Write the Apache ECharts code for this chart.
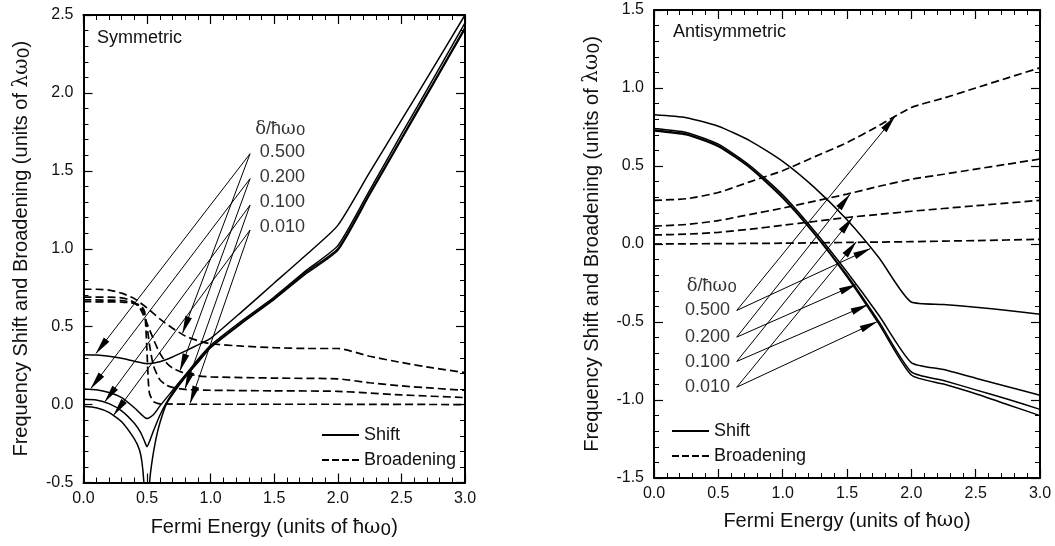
<!DOCTYPE html>
<html>
<head>
<meta charset="utf-8">
<script src="https://cdn.jsdelivr.net/npm/echarts@6/dist/echarts.min.js"></script>
<style>
  html, body { margin: 0; padding: 0; background: #ffffff; }
  #wrap { position: relative; width: 1055px; height: 546px; background: #ffffff; }
  #symChart { position: absolute; left: 0; top: 0; width: 530px; height: 546px; }
  #antiChart { position: absolute; left: 530px; top: 0; width: 525px; height: 546px; }
</style>
</head>
<body>
<div id="wrap">
  <div id="symChart"></div>
  <div id="antiChart"></div>
</div>
<script>
// ---------- axis ranges ----------
const xRange = [0, 3];
const symYRange = [-0.5, 2.5];
const antiYRange = [-1.5, 1.5];
const tickStep = 0.5;

// ---------- legend / annotation text ----------
const deltaLabels = ['0.500', '0.200', '0.100', '0.010'];
const seriesNames = ['Shift', 'Broadening'];

// ---------- Symmetric mode: frequency shift (x, shift) for δ = 0.5, 0.2, 0.1, 0.01 ----------
const symShift500 = [[0,0.32],[0.1,0.318],[0.2,0.31],[0.3,0.297],[0.4,0.278],[0.5,0.262],[0.6,0.275],[0.7,0.305],[0.8,0.343],[0.9,0.383],[1.0,0.425],[1.25,0.6],[1.5,0.78],[1.75,0.96],[2.0,1.15],[2.25,1.49],[2.5,1.825],[2.75,2.16],[3.0,2.5]];
const symShift200 = [[0,0.10],[0.1,0.095],[0.2,0.078],[0.3,0.045],[0.4,-0.02],[0.45,-0.06],[0.5,-0.09],[0.55,-0.065],[0.6,-0.01],[0.7,0.09],[0.8,0.19],[0.9,0.29],[1.0,0.38],[1.25,0.54],[1.5,0.69],[1.75,0.86],[2.0,1.02],[2.25,1.375],[2.5,1.735],[2.75,2.09],[3.0,2.45]];
const symShift100 = [[0,0.035],[0.1,0.03],[0.2,0.006],[0.3,-0.04],[0.4,-0.12],[0.45,-0.18],[0.48,-0.235],[0.5,-0.27],[0.52,-0.235],[0.55,-0.17],[0.6,-0.07],[0.65,0.01],[0.7,0.075],[0.8,0.18],[0.9,0.28],[1.0,0.37],[1.25,0.53],[1.5,0.68],[1.75,0.85],[2.0,1.0],[2.25,1.355],[2.5,1.71],[2.75,2.065],[3.0,2.42]];
const symShift010 = [[0,-0.01],[0.1,-0.02],[0.2,-0.05],[0.3,-0.11],[0.4,-0.22],[0.44,-0.29],[0.46,-0.37],[0.475,-0.5],[0.49,-0.75],[0.5,-1.0],[0.51,-0.75],[0.52,-0.5],[0.54,-0.36],[0.57,-0.22],[0.6,-0.12],[0.65,0.0],[0.7,0.065],[0.8,0.175],[0.9,0.27],[1.0,0.365],[1.25,0.525],[1.5,0.675],[1.75,0.84],[2.0,0.99],[2.25,1.345],[2.5,1.70],[2.75,2.055],[3.0,2.41]];

// ---------- Symmetric mode: broadening ----------
const symBroad500 = [[0,0.74],[0.1,0.74],[0.2,0.735],[0.3,0.715],[0.4,0.68],[0.5,0.62],[0.6,0.55],[0.7,0.49],[0.8,0.44],[0.9,0.41],[1.0,0.39],[1.25,0.375],[1.5,0.365],[1.75,0.36],[2.0,0.36],[2.25,0.31],[2.5,0.27],[2.75,0.235],[3.0,0.205]];
const symBroad200 = [[0,0.69],[0.2,0.69],[0.3,0.685],[0.35,0.675],[0.4,0.655],[0.45,0.61],[0.5,0.52],[0.55,0.42],[0.6,0.33],[0.65,0.27],[0.7,0.235],[0.8,0.2],[0.9,0.185],[1.0,0.178],[1.5,0.17],[2.0,0.165],[2.25,0.14],[2.5,0.12],[2.75,0.105],[3.0,0.092]];
const symBroad100 = [[0,0.672],[0.3,0.668],[0.4,0.65],[0.45,0.625],[0.48,0.58],[0.5,0.5],[0.52,0.38],[0.55,0.25],[0.6,0.16],[0.65,0.125],[0.7,0.11],[0.8,0.097],[1.0,0.092],[1.5,0.088],[2.0,0.085],[2.5,0.062],[3.0,0.045]];
const symBroad010 = [[0,0.66],[0.3,0.658],[0.4,0.65],[0.45,0.635],[0.48,0.6],[0.49,0.5],[0.5,0.33],[0.51,0.15],[0.52,0.07],[0.55,0.02],[0.6,0.005],[1.0,0.002],[2.0,0.002],[3.0,0.0]];

// ---------- Antisymmetric mode: frequency shift ----------
const antiShift500 = [[0,0.828],[0.25,0.81],[0.5,0.755],[0.75,0.66],[1.0,0.53],[1.25,0.36],[1.5,0.155],[1.75,-0.09],[2.0,-0.372],[2.25,-0.388],[2.5,-0.405],[2.75,-0.427],[3.0,-0.45]];
const antiShift200 = [[0,0.74],[0.25,0.715],[0.5,0.64],[0.75,0.50],[1.0,0.315],[1.25,0.08],[1.5,-0.18],[1.75,-0.46],[2.0,-0.76],[2.25,-0.805],[2.5,-0.86],[2.75,-0.915],[3.0,-0.97]];
const antiShift100 = [[0,0.73],[0.25,0.705],[0.5,0.63],[0.75,0.49],[1.0,0.30],[1.25,0.065],[1.5,-0.2],[1.75,-0.5],[2.0,-0.82],[2.25,-0.875],[2.5,-0.935],[2.75,-0.995],[3.0,-1.06]];
const antiShift010 = [[0,0.725],[0.25,0.70],[0.5,0.625],[0.75,0.485],[1.0,0.295],[1.25,0.06],[1.5,-0.21],[1.75,-0.515],[2.0,-0.84],[2.25,-0.898],[2.5,-0.96],[2.75,-1.03],[3.0,-1.10]];

// ---------- Antisymmetric mode: broadening ----------
const antiBroad500 = [[0,0.28],[0.25,0.29],[0.5,0.33],[0.75,0.40],[1.0,0.47],[1.25,0.56],[1.5,0.65],[1.75,0.76],[2.0,0.875],[2.25,0.935],[2.5,1.0],[2.75,1.065],[3.0,1.13]];
const antiBroad200 = [[0,0.115],[0.25,0.125],[0.5,0.15],[0.75,0.19],[1.0,0.23],[1.25,0.275],[1.5,0.32],[1.75,0.37],[2.0,0.415],[2.25,0.447],[2.5,0.48],[2.75,0.512],[3.0,0.545]];
const antiBroad100 = [[0,0.058],[0.25,0.063],[0.5,0.075],[0.75,0.095],[1.0,0.12],[1.25,0.145],[1.5,0.17],[1.75,0.19],[2.0,0.21],[2.5,0.245],[3.0,0.28]];
const antiBroad010 = [[0,0.0],[1.0,0.005],[1.5,0.01],[2.0,0.015],[2.5,0.022],[3.0,0.03]];

// ---------- pointer arrows (label -> curve), in data units ----------
const symArrowFrom = [[1.31,1.61],[1.31,1.45],[1.31,1.28],[1.31,1.12]];
const symArrowToShift = [[0.10,0.33],[0.06,0.105],[0.17,0.02],[0.24,-0.065]];
const symArrowToBroad = [[0.78,0.46],[0.76,0.22],[0.80,0.105],[0.84,0.012]];
const antiArrowFrom = [[0.643,-0.426],[0.643,-0.597],[0.643,-0.753],[0.643,-0.918]];
const antiArrowToShift = [[1.68,-0.03],[1.57,-0.26],[1.66,-0.39],[1.73,-0.50]];
const antiArrowToBroad = [[1.87,0.815],[1.52,0.315],[1.54,0.165],[1.57,0.012]];

// ---------- annotation anchors (left edge, vertical middle of the text) ----------
const symLabelAnchors = [[1.387,1.618],[1.387,1.458],[1.387,1.298],[1.387,1.138]];
const symHeaderAnchor = [1.35,1.767];
const antiLabelAnchors = [[0.241,-0.423],[0.241,-0.594],[0.241,-0.754],[0.241,-0.915]];
const antiHeaderAnchor = [0.254,-0.27];

// ---------- styling ----------
const SANS = 'Liberation Sans, Arial, Helvetica, sans-serif';
const SERIF = 'DejaVu Serif, Liberation Serif, serif';
const INK = '#111111';

const nameRich = {
  t: { fontSize: 20, fontFamily: SANS, color: INK, lineHeight: 22 },
  g: { fontSize: 20, fontFamily: SERIF, color: INK, lineHeight: 22 },
  s: { fontSize: 27, fontFamily: 'DejaVu Sans', color: INK, lineHeight: 22 }
};
const labelRich = {
  n: { fontSize: 18, fontFamily: SANS, color: '#000', lineHeight: 20 },
  g: { fontSize: 18, fontFamily: SERIF, color: '#000', lineHeight: 20 },
  s: { fontSize: 24, fontFamily: 'DejaVu Sans', color: '#000', lineHeight: 20 }
};
const xName = '{t|Fermi Energy (units of ħ}{g|ω}{s|₀}{t|)}';
const yName = '{t|Frequency Shift and Broadening (units of }{g|λω}{s|₀}{t|)}';

// solid bar and dashed bar used as legend keys
const solidKey = 'path://M0,0h37v2h-37z';
const dashedKey = 'path://M0,0h7v2h-7zM10,0h7v2h-7zM20,0h7v2h-7zM30,0h7v2h-7z';

// frame axis: black border line with inward major and minor ticks
function frameAxis(range, extra) {
  return Object.assign({
    type: 'value', min: range[0], max: range[1], interval: tickStep,
    axisLine: { show: true, onZero: false, lineStyle: { color: '#000', width: 2 } },
    axisTick: { show: true, inside: true, length: 9, lineStyle: { color: '#000', width: 1.2 } },
    minorTick: { show: true, splitNumber: 5, length: 5, lineStyle: { color: '#000', width: 1 } },
    splitLine: { show: true, lineStyle: { opacity: 0 } }
  }, extra);
}

function curve(name, data, dashed) {
  return {
    type: 'line', name, data,
    symbol: 'none', smooth: 0.2, silent: true,
    lineStyle: dashed
      ? { color: '#000', width: 1.7, type: [8, 4] }
      : { color: '#000', width: 1.5, type: 'solid' },
    itemStyle: { color: '#000' },
    z: 3
  };
}

function arrowLines(from, toShift, toBroad) {
  const data = [];
  from.forEach((p, i) => {
    data.push([{ coord: p }, { coord: toShift[i] }]);
    data.push([{ coord: p }, { coord: toBroad[i] }]);
  });
  return {
    silent: true, animation: false,
    symbol: ['none', 'triangle'], symbolSize: [7, 18],
    symbolOffset: [[0, 0], [0, 8]],
    label: { show: false },
    lineStyle: { color: '#000', width: 1, type: 'solid', opacity: 1 },
    emphasis: { disabled: true },
    data
  };
}

function textSeries(header, anchors) {
  const data = [{ value: header, label: { formatter: '{g|δ}{n|/ħ}{g|ω}{s|₀}' } }]
    .concat(anchors.map((a, i) => ({ value: a, label: { formatter: '{n|' + deltaLabels[i] + '}' } })));
  return {
    type: 'scatter', symbolSize: 0, silent: true, z: 5,
    label: { show: true, position: 'right', distance: 0, rich: labelRich },
    data
  };
}

function panelOption(p) {
  return {
    animation: false,
    textStyle: { fontFamily: SANS },
    title: { text: p.title, left: p.titlePos[0], top: p.titlePos[1], padding: 0,
      textStyle: { fontSize: 18, fontWeight: 'normal', color: INK, fontFamily: SANS } },
    legend: {
      data: [{ name: seriesNames[0], icon: solidKey }, { name: seriesNames[1], icon: dashedKey }],
      left: p.legendPos[0], top: p.legendPos[1], orient: 'vertical',
      itemWidth: 37, itemHeight: 14, itemGap: 7, selectedMode: false, padding: 0,
      textStyle: { fontSize: 18, color: INK, fontFamily: SANS }
    },
    grid: p.grid,
    xAxis: [
      frameAxis(xRange, { position: 'bottom',
        axisLabel: { formatter: v => v.toFixed(1), fontSize: 16, color: INK, margin: 8, fontFamily: SANS },
        name: xName, nameLocation: 'middle', nameGap: p.xNameGap, nameTextStyle: { rich: nameRich } }),
      frameAxis(xRange, { position: 'top', axisLabel: { show: false } })
    ],
    yAxis: [
      frameAxis(p.yRange, { position: 'left',
        axisLabel: { formatter: v => v.toFixed(1), fontSize: 16, color: INK, margin: 10, fontFamily: SANS },
        name: yName, nameLocation: 'middle', nameGap: p.yNameGap, nameTextStyle: { rich: nameRich } }),
      frameAxis(p.yRange, { position: 'right', axisLabel: { show: false } })
    ],
    series: [
      Object.assign(curve(seriesNames[0], p.shift[0], false),
        { markLine: arrowLines(p.arrowFrom, p.arrowToShift, p.arrowToBroad) }),
      curve(seriesNames[0], p.shift[1], false),
      curve(seriesNames[0], p.shift[2], false),
      curve(seriesNames[0], p.shift[3], false),
      curve(seriesNames[1], p.broad[0], true),
      curve(seriesNames[1], p.broad[1], true),
      curve(seriesNames[1], p.broad[2], true),
      curve(seriesNames[1], p.broad[3], true),
      textSeries(p.header, p.labels)
    ]
  };
}

const symChart = echarts.init(document.getElementById('symChart'), null, { renderer: 'canvas' });
symChart.setOption(panelOption({
  title: 'Symmetric', titlePos: [97, 29], legendPos: [322, 426],
  grid: { left: 80, top: 15, width: 385, height: 469 },
  yRange: symYRange, xNameGap: 34, yNameGap: 48,
  shift: [symShift500, symShift200, symShift100, symShift010],
  broad: [symBroad500, symBroad200, symBroad100, symBroad010],
  arrowFrom: symArrowFrom, arrowToShift: symArrowToShift, arrowToBroad: symArrowToBroad,
  header: symHeaderAnchor, labels: symLabelAnchors
}));

const antiChart = echarts.init(document.getElementById('antiChart'), null, { renderer: 'canvas' });
antiChart.setOption(panelOption({
  title: 'Antisymmetric', titlePos: [143, 23], legendPos: [142, 422],
  grid: { left: 124, top: 10, width: 386, height: 468 },
  yRange: antiYRange, xNameGap: 32, yNameGap: 44,
  shift: [antiShift500, antiShift200, antiShift100, antiShift010],
  broad: [antiBroad500, antiBroad200, antiBroad100, antiBroad010],
  arrowFrom: antiArrowFrom, arrowToShift: antiArrowToShift, arrowToBroad: antiArrowToBroad,
  header: antiHeaderAnchor, labels: antiLabelAnchors
}));
</script>
</body>
</html>
